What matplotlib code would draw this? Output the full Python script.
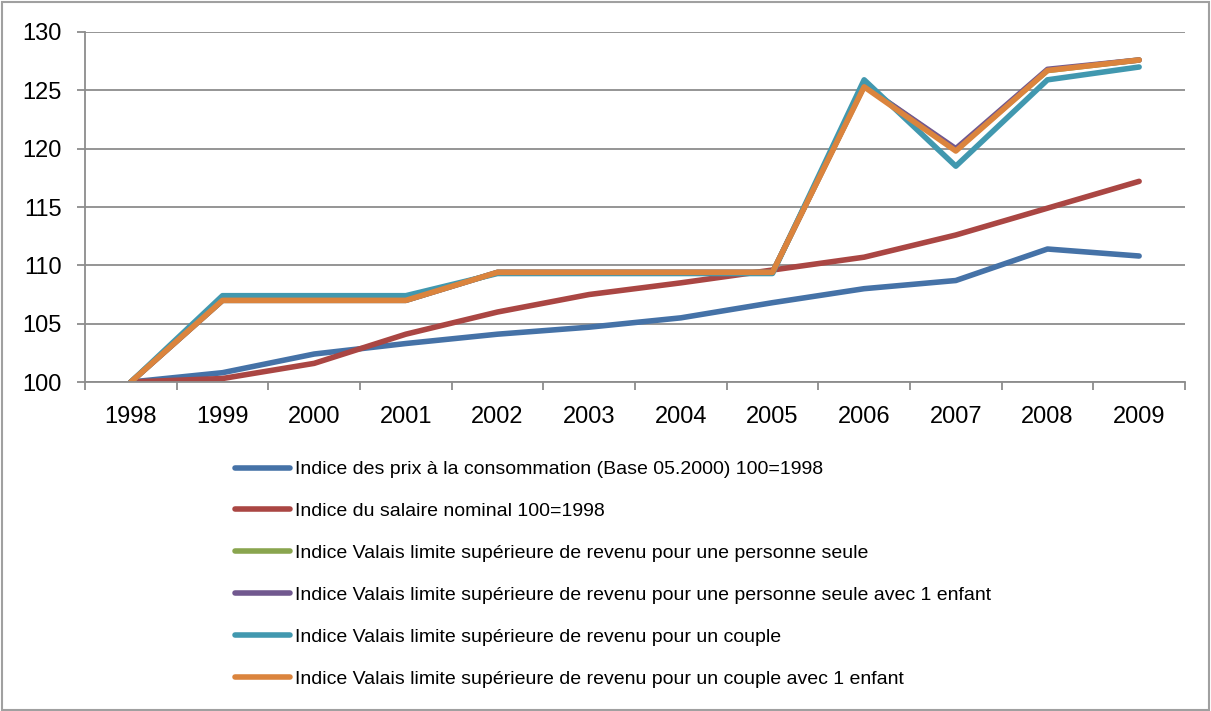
import matplotlib
matplotlib.use("Agg")
import matplotlib.pyplot as plt
from matplotlib.patches import Rectangle

plt.rcParams['font.family'] = ['Liberation Sans', 'DejaVu Sans']

# Data
years = ["1998", "1999", "2000", "2001", "2002", "2003",
         "2004", "2005", "2006", "2007", "2008", "2009"]
prix = [100, 100.8, 102.4, 103.3, 104.1, 104.7, 105.5, 106.8, 108.0, 108.7, 111.4, 110.8]
salaire = [100, 100.3, 101.6, 104.1, 106.0, 107.5, 108.5, 109.6, 110.7, 112.6, 114.9, 117.2]
personne = [100, 107.0, 107.0, 107.0, 109.4, 109.4, 109.4, 109.4, 125.4, 119.9, 126.7, 127.6]
personne_enfant = [100, 107.0, 107.0, 107.0, 109.4, 109.4, 109.4, 109.4, 125.4, 120.0, 126.8, 127.6]
couple = [100, 107.4, 107.4, 107.4, 109.3, 109.3, 109.3, 109.3, 125.9, 118.5, 125.9, 127.0]
couple_enfant = [100, 107.0, 107.0, 107.0, 109.4, 109.4, 109.4, 109.4, 125.3, 119.8, 126.7, 127.6]

labels = [
    "Indice des prix à la consommation (Base 05.2000) 100=1998",
    "Indice du salaire nominal 100=1998",
    "Indice Valais limite supérieure de revenu pour une personne seule",
    "Indice Valais limite supérieure de revenu pour une personne seule avec 1 enfant",
    "Indice Valais limite supérieure de revenu pour un couple",
    "Indice Valais limite supérieure de revenu pour un couple avec 1 enfant",
]
colors = ["#4572A7", "#AA4643", "#89A54E", "#71588F", "#4198AF", "#DB843D"]
series = [prix, salaire, personne, personne_enfant, couple, couple_enfant]

fig = plt.figure(figsize=[12.11, 7.11], dpi=100)
ax = fig.add_axes([0.0702, 0.4627, 0.9083, 0.4923])

x = range(len(years))
for values, label, color in zip(series, labels, colors):
    ax.plot(x, values, color=color, linewidth=4, label=label,
            solid_capstyle="round", solid_joinstyle="round")

# Decorate
grid_color = "#8c8c8c"
ax.set_ylim(100, 130)
ax.set_yticks(range(100, 131, 5))
ax.set_xlim(-0.5, len(years) - 0.5)
ax.set_xticks(x)
ax.set_xticklabels(years)
ax.set_xticks([i + 0.5 for i in range(-1, len(years))], minor=True)
ax.tick_params(axis="x", which="major", length=0, labelsize=17, pad=17)
ax.tick_params(axis="x", which="minor", length=6, width=1.3, color=grid_color)
ax.tick_params(axis="y", length=6, width=1.3, color=grid_color, labelsize=17, pad=11)
ax.grid(axis="y", color=grid_color, linewidth=1.3)
ax.set_axisbelow(True)
for side in ["top", "right"]:
    ax.spines[side].set_visible(False)
for side in ["left", "bottom"]:
    ax.spines[side].set_color(grid_color)
    ax.spines[side].set_linewidth(1.3)

fig.legend(loc="upper left", bbox_to_anchor=(0.194, 0.352), frameon=False,
           fontsize=14, handlelength=2.83, handletextpad=0.26,
           labelspacing=1.25, borderaxespad=0, borderpad=0)

# Outer border
fig.patches.append(Rectangle((0.002, 0.002), 0.996, 0.995, transform=fig.transFigure,
                             fill=False, edgecolor="#a0a0a0", linewidth=1.5))

plt.savefig("out.png", dpi=100)
